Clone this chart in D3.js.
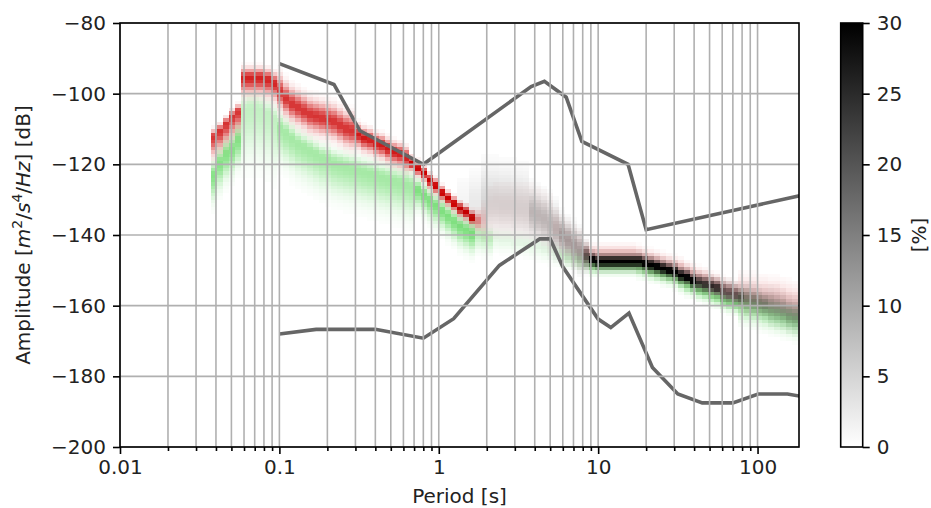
<!DOCTYPE html>
<html>
<head>
<meta charset="utf-8">
<script src="https://cdn.jsdelivr.net/npm/d3@7"></script>
<style>
body { margin: 0; background: #fff; }
text { font-family: "DejaVu Sans", sans-serif; }
</style>
</head>
<body>
<div id="chart"></div>
<script>
// period bins, 1/8 octave wide, centre of the first one in seconds
var firstPeriod = 0.0387;
var binsPerOctave = 8;
var nBins = 98;

// most probable level (dB) of each period bin
var redMode = [
  -112, -110.5, -108.5, -106.5, -105, -95.5, -95.5, -95.5, -95.5, -96,
  -97, -99.5, -101.5, -103, -104, -105, -106, -106.5, -107, -107.5,
  -108, -109, -110, -110.5, -111.5, -112.5, -113, -114, -114.5, -115.5,
  -116.5, -117, -118, -119.5, -121, -122.5, -124.5, -126, -128, -129.5,
  -131, -132.5, -133.5, -135, -136, -136, -134, -133, -133, -133,
  -133, -133, -133, -133.5, -134, -135, -136.5, -138, -140, -141.5,
  -143, -144, -145, -145.5, -145.5, -145.5, -145.5, -145.5, -145.5, -145.5,
  -145.5, -146, -146.5, -147, -147.5, -148, -148.5, -149, -149.5, -150.5,
  -151, -152, -152.5, -153.5, -154, -155, -155.5, -156, -156.5, -157,
  -157, -157.5, -157.5, -158, -158, -158.5, -159, -159.5
];
var greenMode = [
  -123, -119.5, -117, -115.5, -113, -104.5, -104, -104, -104.5, -105.5,
  -107, -109.5, -111, -112.5, -114, -115, -116, -117, -118, -118.5,
  -119.5, -120, -120.5, -121, -121.5, -122, -122.5, -123, -123.5, -124,
  -124.5, -125, -125.5, -126, -127, -128.5, -130, -131.5, -133, -134.5,
  -136, -137.5, -138.5, -139.5, -140, -140.5, -141, -141, -141.5, -141.5,
  -142, -142, -142.5, -143, -143.5, -144, -144.5, -145, -146, -146.5,
  -147, -147.5, -148, -148.5, -148.5, -148.5, -148.5, -148.5, -148.5, -148.5,
  -148.5, -149, -149.5, -150, -150.5, -151, -151.5, -152, -153, -154,
  -154.5, -155.5, -156, -157, -157.5, -158.5, -159, -159.5, -160, -160.5,
  -161, -161.5, -162, -162.5, -163, -163.5, -164, -164.5
];
var grayMode = [
  null, null, null, null, null, null, null, null, null, null,
  null, null, null, null, null, null, null, null, null, null,
  null, null, null, null, null, null, null, null, null, null,
  null, null, null, null, null, null, null, null, null, null,
  null, -131, -131, -131, -131, -130.5, -130.5, -130.5, -131, -131,
  -131.5, -132, -132.5, -133.5, -134.5, -135.5, -137, -138.5, -140, -141.5,
  -143, -144.5, -146, -147, -147.5, -147.5, -147.5, -147.5, -147.5, -147.5,
  -147.5, -147.5, -148, -148.5, -149, -149.5, -150, -150.5, -151.5, -152,
  -153, -153.5, -154, -154.5, -155, -156, -156.5, -157, -157.5, -158,
  -158.5, -159, -159.5, -160, -160.5, -161, -162, -162.5
];

// spread of each series: [first bin, spread above (dB), spread below (dB), peak %]
var redBands = [
  [0, 1, 3, 24], [5, 1.5, 2.5, 26], [11, 2.5, 2.5, 24], [24, 1.5, 2, 27],
  [33, 1, 1.2, 32], [44, 1.5, 1.5, 14], [45, 2.5, 2.5, 6], [46, 5, 5, 1.6],
  [57, 3, 3, 3], [62, 1.5, 2, 8], [88, 3, 2.5, 6]
];
var greenBands = [
  [0, 2, 4, 16], [5, 2, 8, 8], [11, 2, 5, 12], [34, 1.5, 3, 17],
  [44, 1.5, 2.5, 8], [47, 1.5, 2, 3], [58, 1.5, 1.5, 6], [63, 1, 1.5, 14],
  [88, 2, 2.5, 11]
];
var grayBands = [
  [41, 5, 5, 1.2], [43, 5, 5, 2.5], [45, 6, 5, 4.5], [53, 4, 4, 7.5], [58, 3, 3, 10],
  [62, 2, 2, 18], [63, 1.2, 1.2, 32], [81, 1.3, 1.3, 24], [85, 1.6, 1.6, 18],
  [89, 2, 2, 13], [93, 2.4, 2.4, 11]
];

// Peterson noise models
var nhnmPeriods = [0.1, 0.22, 0.32, 0.8, 3.8, 4.6, 6.3, 7.9, 15.4, 20.0, 354.8];
var nhnmDb = [-91.5, -97.4, -110.5, -120.0, -98.0, -96.5, -101.0, -113.5, -120.0, -138.5, -126.0];
var nlnmPeriods = [0.1, 0.17, 0.4, 0.8, 1.24, 2.4, 4.3, 5.0, 6.0, 10.0, 12.0, 15.6, 21.9, 31.6, 45.0, 70.0, 101.0, 154.0, 328.0];
var nlnmDb = [-168.0, -166.7, -166.7, -169.2, -163.7, -148.6, -141.1, -141.1, -149.0, -163.8, -166.2, -162.1, -177.5, -185.0, -187.5, -187.5, -185.0, -185.0, -187.5];

var xTicks = [0.01, 0.1, 1, 10, 100];
var yTicks = [-200, -180, -160, -140, -120, -100, -80];
var cbTicks = [0, 5, 10, 15, 20, 25, 30];

var margin = {top: 23, right: 132, bottom: 61, left: 120},
    width = 931 - margin.left - margin.right,
    height = 508 - margin.top - margin.bottom;

var root = d3.select("#chart").append("svg")
    .attr("width", 931)
    .attr("height", 508);

var svg = root.append("g")
    .attr("transform", "translate(" + margin.left + "," + margin.top + ")");

var x = d3.scaleLog().domain([0.01, 182]).range([0, width]);
var y = d3.scaleLinear().domain([-200, -80]).range([height, 0]);

svg.append("clipPath").attr("id", "clip")
  .append("rect").attr("width", width).attr("height", height);

function bandAt(bands, k) {
  var b = bands[0];
  for (var i = 0; i < bands.length; i++) if (bands[i][0] <= k) b = bands[i];
  return b;
}

function cells(mode, bands) {
  var out = [];
  for (var k = 0; k < nBins; k++) {
    if (mode[k] == null) continue;
    var b = bandAt(bands, k);
    var p = firstPeriod * Math.pow(2, k / binsPerOctave);
    var lo = Math.floor(mode[k] - 3 * b[2]), hi = Math.ceil(mode[k] + 3 * b[1]);
    for (var d = lo; d < hi; d++) {
      var c = d + 0.5;
      var s = c > mode[k] ? b[1] : b[2];
      var pct = b[3] * Math.exp(-0.5 * Math.pow((c - mode[k]) / s, 2));
      if (pct < 0.4) continue;
      out.push({p0: p / Math.pow(2, 0.5 / binsPerOctave), p1: p * Math.pow(2, 0.5 / binsPerOctave),
                d0: d, d1: d + 1, pct: pct});
    }
  }
  return out;
}

var plot = svg.append("g").attr("clip-path", "url(#clip)");

function drawLayer(data, color) {
  plot.append("g")
    .selectAll("rect")
    .data(data)
    .enter().append("rect")
      .attr("x", function(d) { return Math.round(x(d.p0)); })
      .attr("width", function(d) { return Math.round(x(d.p1)) - Math.round(x(d.p0)); })
      .attr("y", function(d) { return Math.round(y(d.d1)); })
      .attr("height", function(d) { return Math.round(y(d.d0)) - Math.round(y(d.d1)); })
      .attr("fill", color)
      .attr("fill-opacity", function(d) { return Math.min(1, d.pct / 30); })
      .attr("shape-rendering", "crispEdges");
}

drawLayer(cells(redMode, redBands), "#cc0000");
drawLayer(cells(greenMode, greenBands), "#1ec81e");
drawLayer(cells(grayMode, grayBands), "#000000");

// grid
var minor = [];
[0.01, 0.1, 1, 10, 100].forEach(function(e) {
  for (var m = 1; m < 10; m++) if (e * m <= 182) minor.push(e * m);
});

svg.append("g").selectAll("line")
  .data(minor)
  .enter().append("line")
    .attr("x1", function(d) { return x(d); })
    .attr("x2", function(d) { return x(d); })
    .attr("y1", 0).attr("y2", height)
    .attr("stroke", "#b0b0b0").attr("stroke-width", 1.6);

svg.append("g").selectAll("line")
  .data(yTicks)
  .enter().append("line")
    .attr("y1", function(d) { return y(d); })
    .attr("y2", function(d) { return y(d); })
    .attr("x1", 0).attr("x2", width)
    .attr("stroke", "#b0b0b0").attr("stroke-width", 1.6);

// noise models
var line = d3.line()
    .x(function(d) { return x(d[0]); })
    .y(function(d) { return y(d[1]); });

plot.append("path")
    .datum(nhnmPeriods.map(function(p, i) { return [p, nhnmDb[i]]; }))
    .attr("d", line)
    .attr("fill", "none").attr("stroke", "#666666").attr("stroke-width", 3.6);

plot.append("path")
    .datum(nlnmPeriods.map(function(p, i) { return [p, nlnmDb[i]]; }))
    .attr("d", line)
    .attr("fill", "none").attr("stroke", "#666666").attr("stroke-width", 3.6);

// axes
svg.append("g")
    .attr("transform", "translate(0," + height + ")")
    .call(d3.axisBottom(x).tickValues(xTicks).tickFormat(d3.format("~g"))
      .tickSize(7).tickPadding(6).tickSizeOuter(0));

svg.append("g")
    .attr("transform", "translate(0," + height + ")")
    .call(d3.axisBottom(x).tickValues(minor.filter(function(d) { return xTicks.indexOf(d) < 0; }))
      .tickFormat("").tickSize(4).tickSizeOuter(0));

svg.append("g")
    .call(d3.axisLeft(y).tickValues(yTicks).tickSize(7).tickPadding(7).tickSizeOuter(0));

svg.selectAll(".domain").remove();
svg.selectAll(".tick line").attr("stroke", "#000").attr("stroke-width", 1.6);
svg.selectAll(".tick text").attr("font-size", 20).attr("font-family", "DejaVu Sans").attr("fill", "#222");

svg.append("rect")
    .attr("width", width).attr("height", height)
    .attr("fill", "none").attr("stroke", "#000").attr("stroke-width", 1.6);

svg.append("text")
    .attr("x", width / 2).attr("y", height + 56)
    .attr("text-anchor", "middle")
    .attr("font-size", 20).attr("fill", "#222")
    .text("Period [s]");

var yl = svg.append("text")
    .attr("transform", "translate(" + (30 - margin.left) + "," + (height / 2) + ") rotate(-90)")
    .attr("text-anchor", "middle")
    .attr("font-size", 20).attr("fill", "#222");
yl.append("tspan").text("Amplitude [");
yl.append("tspan").attr("font-style", "italic").text("m");
yl.append("tspan").attr("font-size", 14).attr("dy", -8).text("2");
yl.append("tspan").attr("dy", 8).text("/");
yl.append("tspan").attr("font-style", "italic").text("s");
yl.append("tspan").attr("font-size", 14).attr("dy", -8).text("4");
yl.append("tspan").attr("dy", 8).text("/");
yl.append("tspan").attr("font-style", "italic").text("Hz");
yl.append("tspan").text("] [dB]");

// colorbar
var cbX = 840.7, cbW = 22;
var cb = root.append("g").attr("transform", "translate(" + cbX + "," + margin.top + ")");
var cbScale = d3.scaleLinear().domain([0, 30]).range([height, 0]);

var grad = root.append("defs").append("linearGradient")
    .attr("id", "cbgrad").attr("x1", 0).attr("y1", 1).attr("x2", 0).attr("y2", 0);
grad.append("stop").attr("offset", 0).attr("stop-color", "#ffffff");
grad.append("stop").attr("offset", 1).attr("stop-color", "#000000");

cb.append("rect")
    .attr("width", cbW).attr("height", height)
    .attr("fill", "url(#cbgrad)")
    .attr("stroke", "#000").attr("stroke-width", 1.6);

cb.append("g")
    .attr("transform", "translate(" + cbW + ",0)")
    .call(d3.axisRight(cbScale).tickValues(cbTicks).tickSize(7).tickPadding(7).tickSizeOuter(0))
    .call(function(g) {
      g.select(".domain").remove();
      g.selectAll(".tick line").attr("stroke", "#000").attr("stroke-width", 1.6);
      g.selectAll(".tick text").attr("font-size", 20).attr("font-family", "DejaVu Sans").attr("fill", "#222");
    });

cb.append("text")
    .attr("transform", "translate(" + (926 - cbX) + "," + (height / 2) + ") rotate(-90)")
    .attr("text-anchor", "middle")
    .attr("font-size", 20).attr("fill", "#222")
    .text("[%]");
</script>
</body>
</html>
